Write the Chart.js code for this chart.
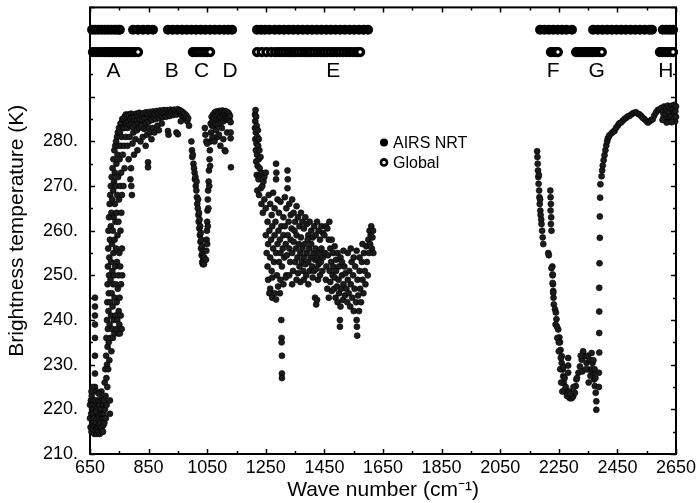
<!DOCTYPE html>
<html><head><meta charset="utf-8">
<script src="https://cdn.jsdelivr.net/npm/chart.js@4.4.1/dist/chart.umd.min.js"></script>
<style>html,body{margin:0;padding:0;background:#fff;}canvas{display:block;}</style>
</head><body>
<canvas id="c" width="698" height="503"></canvas>
<script>
// ---------- axis ticks ----------
const xTickValues = [650,750,850,950,1050,1150,1250,1350,1450,1550,1650,1750,1850,1950,2050,2150,2250,2350,2450,2550,2650];
const yTickValues = [210,215,220,225,230,235,240,245,250,255,260,265,270,275,280,285,290,295,300,305,310];
const xLabelValues = [650,850,1050,1250,1450,1650,1850,2050,2250,2450,2650];
const yLabelValues = [210,220,230,240,250,260,270,280];

// ---------- band letters ----------
const bandLetters = ['A','B','C','D','E','F','G','H'];
const bandLetterWave = [730,929,1031,1128,1480,2231,2379,2615];
const bandLetterTemp = 295.7;

// ---------- channel selection rows ----------
const airsRowTemp = 305;
const globalRowTemp = 300;
const airsChannelWave = [657,668,679,690,701,712,723,734,745,752,
  797,814,831,848,865,
  916,932,948,964,980,996,1012,1028,1044,1060,1076,1092,1108,1122,1135,
  1220,1234,1247,1262,1280,1296,1312,1328,1344,1360,1376,1392,1408,1424,1440,1456,1472,1488,1504,1520,1536,1552,1568,1584,1599,
  2186,2201,2216,2231,2246,2261,2276,2295,
  2367,2383,2399,2415,2431,2447,2463,2479,2495,2511,2527,2543,2559,2568,
  2605,2617,2629,2640];
const globalChannelWave = [660,670,680,690,700,710,718,726,734,742,750,759,768,777,786,795,805,814,
  1001,1010,1020,1030,1040,1050,1060,
  1220,1236,1252,1268,1282,1294,1305,1316,1327,1338,1349,1360,1371,1382,1393,1404,1415,1426,1437,1448,1459,1470,1481,1492,1503,1514,1525,1536,1547,1558,1567,1572,
  2223,2232,2240,2247,
  2309,2318,2327,2336,2345,2354,2363,2372,2381,2390,2397,
  2595,2604,2613,2622,2631,2640];

// ---------- brightness temperature spectrum (wave number, K) ----------
const spec650 = [[650,218],[650,221],[652,216],[653,222],[654,219],[655,215],[656,223],[657,220],[658,217],[659,221.5],[660,215.5],[661,219],[662,222],[663,216.5],[664,218],[665,214.5],[666,220],
  [667,225],[667,228],[667,232],[667,236],[667,239],[667,241],[667,243],[667,245],[668,217],[669,222],[670,215],[671,219.5],[672,216],[673,221],[674,214.5],[675,218],[676,220.5],[677,216],[678,222],
  [679,215],[680,218.5],[681,221],[682,216.5],[683,214.5],[684,219],[685,217],[686,222],[687,215],[688,220],[689,224],[690,216],[691,219],[692,222.5],[693,215],[694,218],[695,221],[696,216.5],
  [660,225],[672,224],[655,224],[680,223.5]];
const spec700 = [[694,215],[696,219],[698,222],[699,217],[700,226],[701,220],[702,229],[703,223],[704,218],[705,232],[706,227],[706,236],[707,221],[708,240],[708,230],[709,244],[709,225],
  [710,248],[710,234],[711,252],[711,238],[712,256],[712,229],[713,242],[713,260],[714,235],[714,246],[715,263],[715,250],[716,231],[716,254],[717,266],[717,239],[718,219],[718,222],[718,258],
  [719,244],[719,268],[720,236],[720,249],[721,261],[721,270],[722,241],[722,253],[723,264],[723,233],[724,272],[724,246],[725,257],[725,238],[726,267],[726,251],[727,274],[727,243],[728,260],
  [728,236],[729,269],[729,248],[730,276],[730,255],[731,240],[731,263],[732,271],[732,250],[733,278],[733,237],[734,258],[734,245],[735,266],[735,273],[736,252],[736,279],[737,241],[737,262],
  [738,270],[738,248],[739,280],[739,256],[740,238],[740,275],[741,264],[741,244],[742,281],[742,253],[743,268],[743,240],[744,277],[744,259],[745,247],[745,282],[746,237],[746,272],[747,262],
  [747,250],[748,279],[748,242],[749,283],[749,267],[750,255],[750,239],[751,276],[751,245],[752,282],[752,237],[753,270],[753,252],[754,284],[754,260],[755,241],[755,279],[756,248],[756,273],
  [757,284],[757,264],[758,238],[758,281],[759,256],[759,268],[760,285],[760,250],[762,277],[762,283],[764,285],[764,270],[766,283],[766,279],[768,285.5],[768,274],[770,284],[772,286],[772,281]];
const spec800 = [[774,284],[776,285.5],[778,283],[780,286],[782,284.5],[784,285.8],[786,283.6],[788,285],[790,286.2],[792,284],[794,285.4],[796,283.2],[798,286],[800,284.8],[802,285.6],[805,283.8],
  [808,286.2],[810,284.6],[812,285.8],[815,284],[818,286.4],[820,285],[823,283.5],[826,286],[829,284.7],[832,286.3],[835,285.1],[838,283.9],[841,286.5],[844,285.2],[847,286],[850,284.4],[853,286.6],
  [856,285.3],[859,286.1],[862,284.8],[865,286.7],[868,285.5],[871,286.2],[874,285],[877,286.8],[880,285.6],[883,286.4],[886,285.2],[889,286.9],[892,285.8],[895,286.5],[898,285.4],[901,287],
  [904,286],[907,286.6],[910,285.5],[913,287],[916,286.2],[919,286.7],[922,285.7],[925,287.1],[928,286.3],[931,286.8],[934,285.9],[937,287.1],[940,286.4],[943,286.9],[946,286],[949,287.2],
  [952,286.5],[955,287],[958,286.1],[961,286.8],[964,285.8],[967,286.5],[970,285.5],[973,286.2],[976,285],[979,285.8],[982,284.5],[985,285.2],[988,283.5],
  [778,279],[782,276],[785,281],[788,271.5],[790,274],[791,270],[793,268],[795,279.5],[798,282],[800,277],[805,280.5],[810,282.5],[812,278],[818,283],[822,280],[825,283.5],[830,281],[835,282.8],
  [840,279],[845,281.5],[848,275.3],[848,274.2],[850,283],[855,282],[860,280.5],[865,283],[870,282],[880,283.5],[885,282.5],[895,284],[916,282.3],[918,281.5],[945,282],[950,281.6],[960,284.5]];
const spec1000 = [[996,280],[998,278],[999,276.5],[1001,277],[1003,275],[1005,274],[1007,273],[1008,271.5],[1010,272],[1011,270],[1013,269],[1014,271],[1015,267.5],[1016,266],[1018,265],[1019,267],
  [1020,263.5],[1021,262],[1022,264],[1023,260.5],[1024,262.5],[1025,259],[1026,261],[1027,257.5],[1028,259.5],[1029,256],[1030,258],[1031,254.5],[1032,256.5],[1033,253],[1034,255],[1035,252.5],
  [1036,254],[1037,253],[1038,255.5],[1039,252.5],[1040,254],
  [1046,253.5],[1047,255.5],[1048,258],[1049,260],[1050,257],[1050,262],[1051,264.5],[1052,261],[1052,267],[1053,269],[1054,265],[1055,271],[1056,273.5],[1057,270],[1058,276],[1059,278],[1060,274.5],[1061,280],
  [1042,283],[1044,281.5],[1047,280],[1050,279.5],[1063,282],[1066,283.5]];
const spec1100 = [[1062,284],[1065,285.5],[1068,284.5],[1070,286],[1072,283.5],[1074,285],[1076,286.5],[1078,284],[1080,285.8],[1082,286.7],[1084,285],[1086,283.8],[1088,286.3],[1090,284.8],
  [1092,286.8],[1094,285.5],[1096,284.2],[1098,286.5],[1100,285.3],[1102,286.9],[1104,285.8],[1106,284.5],[1108,286.4],[1110,285.2],[1112,286.8],[1114,285.6],[1116,286.1],[1118,284.9],[1120,286.5],
  [1122,285.4],[1124,286.2],[1126,284.8],[1128,285.7],[1130,284.3],
  [1068,281],[1075,280],[1080,282.5],[1085,281],[1095,279],[1100,283],[1105,280.5],[1110,278],[1112,277.8],[1118,282],[1130,282],[1130,280.7],[1131,274.2],[1090,281.5]];
const spec1250 = [[1213,286],[1215,287],[1214,284.5],[1217,285.5],[1213,283],[1216,282],[1219,283.5],[1214,280.5],[1218,279.5],[1221,281],[1223,282.5],[1216,278],[1220,277],[1224,279],[1226,280.5],
  [1228,278],[1217,275.5],[1222,274.5],[1226,276],[1229,274],[1232,276.5],[1219,272.5],[1225,271.5],[1230,272.5],[1235,273],[1221,269],[1227,268],[1233,269.5],[1238,270],[1242,271],
  [1285,275],[1286,273],[1285,271.5],[1324,273.5],[1325,271.5],[1324,269.5],[1245,272],[1250,273],
  [1235,266],[1240,264],[1245,267],[1250,265],[1256,262],[1260,268],[1265,266],[1270,263.5],[1275,268.5],[1280,265],[1290,267],[1295,264],[1300,266.5],[1310,263],[1315,267.5],[1320,265],
  [1330,266],[1335,263.5],[1340,267],[1345,264],[1350,262],[1355,265.5],[1360,263],[1365,261],[1370,264],[1375,262],[1380,260.5],[1385,263],[1390,261.5],[1395,259],[1400,262],[1405,260],
  [1410,258.5],[1415,261],[1420,259],[1425,262],[1430,260],[1435,258],[1440,261],[1445,259.5]];
const spec1350 = [[1250,259],[1253,255],[1256,252],[1258,257],[1262,260],[1265,254],[1268,258],[1270,251],[1272,261],[1275,256],[1278,253],[1280,259],[1283,262],[1285,255],[1288,250],[1290,257],
  [1293,260],[1295,253],[1298,258],[1300,255],[1303,261],[1305,252],[1308,256],[1310,259],[1313,254],[1315,261],[1318,257],[1320,250],[1322,254.5],[1325,259],[1328,262],[1330,256],[1333,253],
  [1335,258],[1338,260.5],[1340,255],[1343,251],[1345,257.5],[1348,260],[1350,253],[1353,256],[1355,259],[1358,254],[1360,250.5],[1363,257],[1365,252],[1368,255],[1370,258.5],[1373,253],
  [1375,256],[1378,251],[1380,254],[1383,257],[1385,252.5],[1388,250],[1390,255],[1393,258],[1395,253],[1398,256],[1400,251],[1403,254],[1405,257],[1408,252],[1410,249.5],[1413,255],[1415,251],
  [1418,253.5],[1420,256],[1423,251.5],[1425,254],[1428,249],[1430,252.5],[1433,255],[1435,250],[1438,253],[1440,256],[1443,251],[1445,254],
  [1258,249],[1265,247],[1272,249.5],[1280,246],[1292,247.5],[1300,249],[1310,248],[1318,249.5],[1330,250],[1340,248],[1355,249],[1368,248.5],[1380,249],[1395,248],
  [1262,246],[1272,245],[1285,244.6],[1298,246],[1303,240],[1304,236],[1304,235],[1305,232],[1305,228],[1305,227],[1418,245],[1422,243.5],[1425,244.5]];
const spec1500 = [[1450,259],[1455,261],[1460,260.5],[1465,258],[1470,256],[1452,255],[1457,252],[1462,254.5],[1468,251],[1473,253],[1478,250],[1455,249],[1460,247],[1465,245],[1470,248.5],
  [1475,246.5],[1480,252],[1483,247],[1485,249.5],[1488,245],[1490,251],[1493,247.5],[1495,244],[1498,249],[1500,246],[1503,240],[1503,238.5],[1505,243],[1508,247],[1510,250],[1513,244.5],
  [1515,248],[1518,252],[1520,245.5],[1522,250.5],[1467,262],[1475,258],[1480,255],[1485,256.5],[1490,253.5],[1495,255],[1500,252],[1505,254],[1510,253],[1515,255.5],
  [1525,247],[1528,244],[1530,249],[1533,246],[1535,251],[1538,243],[1540,248],[1543,253],[1545,245],[1548,250],[1550,242],[1553,247],[1555,252],[1558,244],[1560,240],[1561,238.5],[1562,236.5],
  [1563,249],[1565,245.5],[1568,242],[1570,251],[1572,247],[1575,244],[1578,253],[1580,249],[1583,246],[1585,255],[1588,251],[1590,248],[1593,256.5],[1595,253],[1598,250],[1600,258],[1602,255],
  [1604,260],[1606,257],[1608,259],[1610,261],[1612,256],[1614,258.5],[1616,260],[1617,255],[1530,255],[1540,256],[1550,254],[1560,255.5],[1570,254],[1580,257]];
const spec2250 = [[2176,277.8],[2177,276.5],[2178,275],[2179,273.5],[2180,272],[2181,270.5],[2182,272.5],[2183,269],[2184,267.5],[2185,266],[2186,267],[2187,264.5],[2188,263.5],[2190,262.5],
  [2191,261.5],[2193,260],[2195,258.5],[2197,257],[2221,269],[2222,267.5],[2223,266],[2222,264.5],[2224,263],[2223,261.5],[2225,260],[2228,252],[2229,250],[2230,248],[2231,246.5],[2232,245],
  [2214,255],[2216,254.5],[2225,251.6],[2229,250.2],[2229,248.3],[2231,246.1],[2233,243.5],[2237,242.4],[2240,241.7],[2242,240.2],[2248,237.9],[2252,236.1],[2254,235],[2256,233.3],[2260,231.9],
  [2260,230.4],[2263,228.9],[2265,227.4],[2267,225.9],[2271,224.4],[2276,223.7],[2282,222.9],[2288,222.5],[2294,222.5],[2299,222.9],[2305,223.7],[2308,225.2],[2310,226.7],[2317,228.2],
  [2322,229.6],[2328,231.1],[2333,233],[2339,231.9],[2345,230.4],[2351,228.9],[2356,231.1],[2362,232.6],[2365,230.4],[2367,228.2],[2370,226.7],[2373,225.2],[2376,223.7],[2378,221.8],[2378,219.9],
  [2250,233],[2255,229],[2258,226],[2262,224],[2266,229.5],[2270,227],[2274,225],[2278,223],[2282,231.5],[2282,229.8],[2282,228.2],[2286,224],[2290,223.5],[2300,225],[2312,227],[2325,232],
  [2330,228.5],[2342,229],[2348,232],[2352,226],[2358,227.5],[2363,229],[2368,231],[2372,229],[2375,227],[2239,239],[2245,236],[2244,238.5],[2250,235],[2257,231.5]];
const spec2450 = [[2387,225],[2387,228.2],[2388,232.7],[2388,237.1],[2388,241.9],[2388,247.2],[2389,252.7],[2390,258.4],[2390,263.2],[2391,267.4],[2392,270.4],
  [2396,272.2],[2398,273.5],[2400,274.6],[2403,275.8],[2406,276.9],[2409,278],[2412,279.1],[2415,280],[2417,280.6],[2420,281],[2423,281.4],[2430,281.8],[2436,282.2],[2440,282.3],[2445,283],
  [2451,283.5],[2456,284],[2462,284.2],[2468,284.6],[2474,285],[2480,285.3],[2486,285.6],[2491,285.7],[2497,286],[2503,286.3],[2508,286.4],[2514,286.5],[2520,286.2],[2526,286],[2531,285.7],
  [2536,285.3],[2542,285],[2548,284.6],[2554,284.2],[2560,284.5],[2566,284.8],[2571,285],[2576,285.8],[2582,286.5],[2588,287],[2594,287.2],[2600,287.5],[2605,286.5],[2608,285.5],[2610,287.8],
  [2614,286],[2616,287.6],[2620,285],[2622,288],[2626,286.5],[2628,284.5],[2630,287.5],[2633,285.5],[2636,288],[2639,287.2],[2641,285],[2643,286.5],[2645,288.2],[2647,284.5],[2648,286.8],
  [2650,285.5],[2650,287.8],[2618,284.2],[2635,284.3],[2604,284.8]];

const spectrumParts = [spec650, spec700, spec800, spec1000, spec1100, spec1250, spec1350, spec1500, spec2250, spec2450];
const spectrumPoints = [].concat(...spectrumParts).map(p => ({x: p[0], y: p[1]}));

const FONT = "'Liberation Sans', Arial, Helvetica, sans-serif";

const framePlugin = {
  id: 'frame',
  beforeDatasetsDraw(chart) {
    const {ctx, chartArea: a, scales: {x, y}} = chart;
    ctx.save();
    ctx.strokeStyle = '#000';
    ctx.lineWidth = 1.5;
    xTickValues.forEach(v => {
      const px = Math.round(x.getPixelForValue(v)) + 0.5;
      const len = xLabelValues.includes(v) ? 5 : 3;
      ctx.beginPath();
      ctx.moveTo(px, a.bottom); ctx.lineTo(px, a.bottom - len);
      ctx.moveTo(px, a.top); ctx.lineTo(px, a.top + len);
      ctx.stroke();
    });
    yTickValues.forEach(v => {
      const py = Math.round(y.getPixelForValue(v)) + 0.5;
      const len = (v % 10 === 0) ? 5 : 3;
      ctx.beginPath();
      ctx.moveTo(a.left, py); ctx.lineTo(a.left + len, py);
      ctx.moveTo(a.right, py); ctx.lineTo(a.right - len, py);
      ctx.stroke();
    });
    ctx.lineWidth = 2;
    ctx.strokeRect(a.left, a.top, a.right - a.left, a.bottom - a.top);
    ctx.restore();
  },
  afterDatasetsDraw(chart) {
    const {ctx, chartArea: a, scales: {x, y}} = chart;
    ctx.save();
    ctx.fillStyle = '#000';
    ctx.font = '21px ' + FONT;
    ctx.textAlign = 'center';
    ctx.textBaseline = 'middle';
    bandLetters.forEach((t, i) => {
      ctx.fillText(t, x.getPixelForValue(bandLetterWave[i]), y.getPixelForValue(bandLetterTemp));
    });
    // legend
    const lx = a.left + 294, ly1 = a.top + 135, ly2 = a.top + 155;
    ctx.beginPath(); ctx.arc(lx, ly1, 4, 0, Math.PI * 2); ctx.fillStyle = '#000'; ctx.fill();
    ctx.beginPath(); ctx.arc(lx, ly2, 3, 0, Math.PI * 2); ctx.fillStyle = '#fff'; ctx.fill();
    ctx.lineWidth = 2.6; ctx.strokeStyle = '#000'; ctx.stroke();
    ctx.fillStyle = '#000';
    ctx.font = '16px ' + FONT;
    ctx.textAlign = 'left';
    ctx.fillText(chart.data.datasets[1].label, lx + 9, ly1 + 1);
    ctx.fillText(chart.data.datasets[2].label, lx + 9, ly2 + 1);
    ctx.restore();
  }
};

new Chart(document.getElementById('c'), {
  type: 'scatter',
  data: {
    datasets: [
      {label: 'Spectrum', data: spectrumPoints, pointRadius: 3, pointBackgroundColor: '#1c1c1c', pointBorderColor: '#000', pointBorderWidth: 0.6, clip: false},
      {label: 'AIRS NRT', data: airsChannelWave.map(w => ({x: w, y: airsRowTemp})), pointRadius: 5, pointBackgroundColor: '#000', pointBorderColor: '#000', pointBorderWidth: 0, clip: false},
      {label: 'Global', data: globalChannelWave.map(w => ({x: w, y: globalRowTemp})), pointRadius: 3.4, pointBackgroundColor: '#fff', pointBorderColor: '#000', pointBorderWidth: 3.4, clip: false}
    ]
  },
  options: {
    responsive: false,
    devicePixelRatio: 1,
    animation: false,
    events: [],
    layout: {padding: {left: 0, right: 22, top: 7, bottom: 0}},
    plugins: {legend: {display: false}, tooltip: {enabled: false}},
    scales: {
      x: {
        type: 'linear', min: 650, max: 2650,
        afterBuildTicks: s => { s.ticks = xTickValues.map(v => ({value: v})); },
        afterFit: s => { s.height = 49; s.paddingLeft = 0; s.paddingRight = 0; },
        grid: {display: false, drawTicks: false},
        border: {display: false},
        ticks: {autoSkip: false, maxRotation: 0, padding: 3, color: '#000', font: {family: FONT, size: 18},
          callback: v => xLabelValues.includes(v) ? String(v) : ''},
        title: {display: true, text: 'Wave number (cm\u207B\u00B9)', color: '#000', font: {family: FONT, size: 21}, padding: {top: 0, bottom: 0}}
      },
      y: {
        type: 'linear', min: 210, max: 310,
        afterBuildTicks: s => { s.ticks = yTickValues.map(v => ({value: v})); },
        afterFit: s => { s.width = 90; s.paddingTop = 0; s.paddingBottom = 0; },
        grid: {display: false, drawTicks: false},
        border: {display: false},
        ticks: {autoSkip: false, padding: 12, color: '#000', font: {family: FONT, size: 18},
          callback: v => yLabelValues.includes(v) ? v + '.' : ''},
        title: {display: true, text: 'Brightness temperature (K)', color: '#000', font: {family: FONT, size: 21}, padding: {top: 5, bottom: 0}}
      }
    }
  },
  plugins: [framePlugin]
});
</script>
</body></html>
